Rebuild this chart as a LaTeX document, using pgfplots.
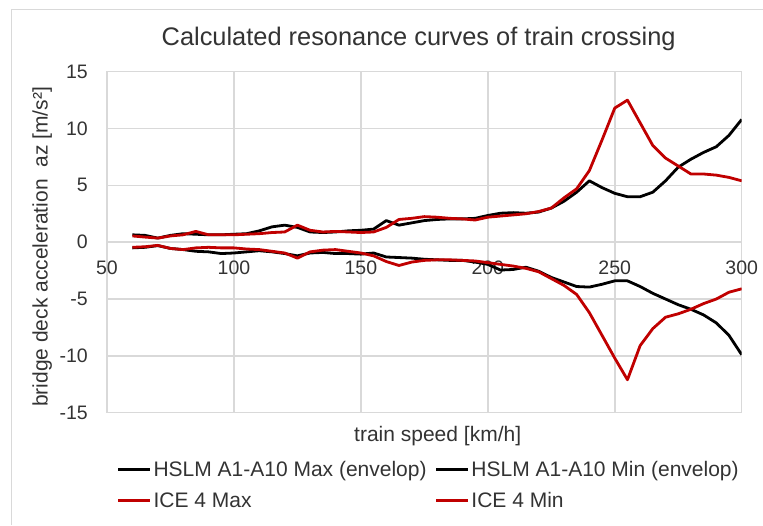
\documentclass[border=0pt]{standalone}
\usepackage{pgfplots}
\usepackage{pgfplotstable}
\pgfplotsset{compat=1.18}
\usepackage{fontspec}
\setmainfont{Liberation Sans}
\definecolor{txt}{HTML}{333333}
\definecolor{gridc}{HTML}{D9D9D9}
\definecolor{icered}{HTML}{C00000}

% speed [km/h], HSLM max, HSLM min, ICE 4 max, ICE 4 min
\pgfplotstableread{
v    hmax  hmin   imax   imin
60   0.65  -0.50  0.55  -0.45
65   0.60  -0.45  0.45  -0.40
70   0.36  -0.30  0.36  -0.28
75   0.60  -0.55  0.55  -0.55
80   0.75  -0.65  0.65  -0.65
85   0.70  -0.80  0.95  -0.50
90   0.65  -0.85  0.65  -0.45
95   0.65  -1.00  0.65  -0.50
100  0.70  -0.95  0.65  -0.50
105  0.75  -0.85  0.70  -0.60
110  1.00  -0.75  0.75  -0.65
115  1.35  -0.85  0.85  -0.80
120  1.50  -1.00  0.90  -0.95
125  1.30  -1.20  1.50  -1.40
130  0.90  -0.95  1.05  -0.85
135  0.85  -0.90  0.90  -0.70
140  0.90  -1.00  0.95  -0.65
145  1.00  -1.00  0.90  -0.80
150  1.05  -1.05  0.85  -0.95
155  1.15  -0.95  0.90  -1.20
160  1.90  -1.30  1.30  -1.70
165  1.50  -1.35  2.00  -2.05
170  1.70  -1.40  2.10  -1.75
175  1.90  -1.50  2.25  -1.60
180  2.00  -1.55  2.20  -1.55
185  2.05  -1.60  2.10  -1.55
190  2.05  -1.60  2.05  -1.60
195  2.10  -1.75  1.95  -1.65
200  2.35  -1.95  2.20  -1.80
205  2.55  -2.45  2.30  -1.95
210  2.60  -2.40  2.40  -2.10
215  2.55  -2.20  2.50  -2.30
220  2.65  -2.55  2.70  -2.60
225  3.00  -3.10  3.00  -3.20
230  3.60  -3.50  3.90  -3.80
235  4.40  -3.90  4.70  -4.60
240  5.40  -3.95  6.30  -6.20
245  4.80  -3.70  9.00  -8.20
250  4.30  -3.40  11.80 -10.20
255  4.00  -3.40  12.50 -12.10
260  4.00  -3.90  10.50 -9.10
265  4.40  -4.50  8.50  -7.60
270  5.40  -5.00  7.40  -6.60
275  6.60  -5.50  6.70  -6.30
280  7.30  -5.90  6.00  -5.90
285  7.90  -6.40  6.00  -5.40
290  8.40  -7.10  5.90  -5.00
295  9.40  -8.20  5.70  -4.40
300  10.80 -9.90  5.40  -4.10
}\speeds

\begin{document}
\begin{tikzpicture}
\path[use as bounding box] (0pt,0pt) rectangle (763pt,525pt);
\draw[gridc, line width=1pt] (11pt,0pt) -- (11pt,515.5pt) -- (763pt,515.5pt);
\begin{axis}[
  at={(107pt,112.3pt)}, anchor=south west,
  scale only axis,
  width=634.7pt, height=341pt,
  xmin=50, xmax=300, ymin=-15, ymax=15,
  xtick={50,100,150,200,250,300},
  xticklabels={50,100,150,200,250,300},
  ytick={-15,-10,-5,0,5,10,15},
  yticklabels={-15,-10,-5,0,5,10,15},
  major tick length=0pt,
  grid=major,
  major grid style={gridc, line width=1.5pt},
  axis line style={gridc, line width=1.5pt},
  tick label style={font=\fontsize{19.5}{22}\selectfont, text=txt, inner sep=0pt},
  xticklabel style={anchor=center, yshift=145.2pt},
  yticklabel style={anchor=east, xshift=-19pt},
  title={Calculated resonance curves of train crossing},
  title style={at={(axis description cs:0.491,1.058)}, anchor=base,
    font=\fontsize{25.4}{30}\selectfont, text=txt},
  xlabel={train speed [km/h]},
  xlabel style={at={(axis description cs:0.521,-0.083)}, anchor=base,
    font=\fontsize{21}{25}\selectfont, text=txt},
  ylabel={bridge deck acceleration\ \ az [m/s²]},
  ylabel style={at={(axis description cs:-0.0935,0.486)}, anchor=base,
    font=\fontsize{21}{25}\selectfont, text=txt},
  legend columns=2,
  legend style={at={(axis description cs:0.0153,-0.1425)}, anchor=north west,
    draw=none, fill=none, inner sep=0pt, outer sep=0pt,
    font=\fontsize{21}{25}\selectfont, text=txt,
    nodes={inner sep=0pt, text height=15.5pt, text depth=4.5pt},
    cells={anchor=base west},
    row sep=11pt,
    /tikz/every odd column/.append style={column sep=2.4pt},
    /tikz/every even column/.append style={column sep=8pt}},
  legend image code/.code={\draw[#1] (0pt,7.3pt) -- (31.6pt,7.3pt);},
  every axis plot/.append style={line width=2.8pt, line join=round, mark=none},
]
\addplot[black] table[x=v, y=hmax] {\speeds};
\addlegendentry{HSLM A1-A10 Max (envelop)}
\addplot[black] table[x=v, y=hmin] {\speeds};
\addlegendentry{HSLM A1-A10 Min (envelop)}
\addplot[icered] table[x=v, y=imax] {\speeds};
\addlegendentry{ICE 4 Max}
\addplot[icered] table[x=v, y=imin] {\speeds};
\addlegendentry{ICE 4 Min}
\end{axis}
\end{tikzpicture}
\end{document}
